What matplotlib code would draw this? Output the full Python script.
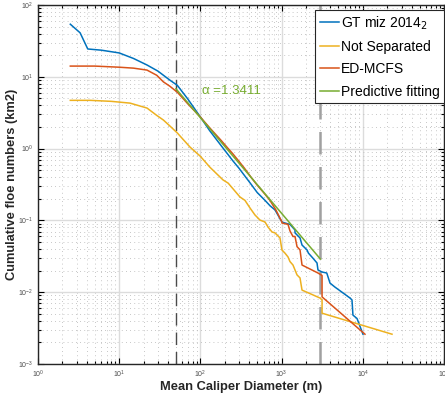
import numpy as np
import matplotlib.pyplot as plt

plt.rcParams['font.family'] = ['Liberation Sans', 'DejaVu Sans']

# GT miz 2014_2
gt_x = [2.5, 3.3, 4.1, 6, 10, 15, 22, 30, 42, 52, 70, 100, 130, 180, 250, 300, 350, 420, 500,
        625, 720, 829, 1010, 1100, 1268, 1463, 1463, 1686, 1784, 2055, 2140, 2437, 2730, 2806,
        3150, 3600, 3945, 4530, 6950, 7360, 7560, 8490, 10050]
gt_y = [54, 41, 24.4, 23.5, 21.5, 18, 14.6, 12, 9.0, 7.6, 4.9, 2.75, 1.78, 1.1, 0.68, 0.53, 0.42,
        0.32, 0.245, 0.19, 0.16, 0.14, 0.095, 0.092, 0.088, 0.0735, 0.067, 0.057, 0.0454, 0.0388,
        0.035, 0.0297, 0.0255, 0.0204, 0.0191, 0.0185, 0.0134, 0.0118, 0.0083, 0.0078, 0.0048,
        0.0043, 0.0026]

# Not Separated
ns_x = [2.5, 4.4, 8, 13.6, 22, 29, 35, 42, 52, 74.5, 100, 131, 190, 220, 307, 354, 408, 470,
        542, 625, 680, 762, 829, 955, 1010, 1100, 1199, 1268, 1381, 1549, 1686, 1784, 2970,
        3150, 3150, 22900]
ns_y = [4.7, 4.7, 4.55, 4.3, 3.67, 2.9, 2.5, 2.07, 1.65, 1.05, 0.78, 0.55, 0.366, 0.33, 0.212,
        0.19, 0.149, 0.119, 0.101, 0.095, 0.081, 0.069, 0.067, 0.057, 0.0387, 0.035, 0.031,
        0.0267, 0.0239, 0.0174, 0.0158, 0.0107, 0.0083, 0.0078, 0.0051, 0.0026]

# ED-MCFS
ed_x = [2.5, 5, 10, 15, 22, 29, 35, 42, 52, 70, 100, 130, 180, 220, 250, 300, 350, 420, 500,
        590, 719, 850, 1010, 1010, 1199, 1268, 1381, 1463, 1549, 1686, 1784, 2806, 3150, 3150,
        10640]
ed_y = [14.1, 14.1, 13.6, 13.2, 12.4, 10.5, 8.5, 7.4, 6.1, 4.2, 2.75, 1.95, 1.3, 1.0, 0.85,
        0.66, 0.53, 0.40, 0.31, 0.25, 0.19, 0.14, 0.095, 0.092, 0.088, 0.0714, 0.0597, 0.0597,
        0.0431, 0.0388, 0.0239, 0.0185, 0.0171, 0.0086, 0.0026]

# Predictive fitting
fit_x = [50, 3000]
fit_y = [6.8, 0.029]

cut_lines = [50, 3000]
alpha_text = 'α =1.3411'

fig = plt.figure(figsize=(4.45, 4.0), dpi=100)
ax = fig.add_axes([38 / 445, 36 / 400, 406 / 445, 359 / 400])

ax.set_xscale('log')
ax.set_yscale('log')
ax.set_xlim(1, 1e5)
ax.set_ylim(1e-3, 1e2)

ax.grid(True, which='major', color='#dcdcdc', linewidth=1.0, linestyle='-')
ax.grid(True, which='minor', color='#b4b4b4', linewidth=0.6, linestyle=(0, (1, 4)))
ax.set_axisbelow(True)

ax.axvline(cut_lines[0], color='#4a4a4a', linewidth=1.0, linestyle=(0, (9, 5)), zorder=1)
ax.axvline(cut_lines[1], color='#a0a0a0', linewidth=1.8, linestyle=(0, (9, 5)), zorder=1)

ax.plot(gt_x, gt_y, color='#0072BD', linewidth=1.1, label='GT miz 2014$_2$', zorder=3)
ax.plot(ns_x, ns_y, color='#EDB120', linewidth=1.1, label='Not Separated', zorder=3)
ax.plot(ed_x, ed_y, color='#D95319', linewidth=1.1, label='ED-MCFS', zorder=3)
ax.plot(fit_x, fit_y, color='#77AC30', linewidth=1.1, label='Predictive fitting', zorder=3)

ax.text(105, 6.3, alpha_text, color='#77AC30', fontsize=9.5, va='center', ha='left')

ax.tick_params(which='both', direction='in', top=True, right=True, labelsize=5,
               labelcolor='#4d4d4d', width=0.8)
ax.tick_params(which='major', length=4)
ax.tick_params(which='minor', length=2)
for s in ax.spines.values():
    s.set_linewidth(1.0)
    s.set_color('#262626')

ax.set_xlabel('Mean Caliper Diameter (m)', fontsize=9.3, fontweight='bold', color='#262626')
ax.set_ylabel('Cumulative floe numbers (km2)', fontsize=9.3, fontweight='bold', color='#262626')
ax.xaxis.set_label_coords(0.5, -0.047)
ax.yaxis.set_label_coords(-0.050, 0.5)

leg = ax.legend(loc='upper right', bbox_to_anchor=(1.0, 354 / 359), fontsize=10,
                frameon=True, fancybox=False, edgecolor='#262626', framealpha=1,
                handlelength=1.4, handletextpad=0.15, labelspacing=0.6, borderpad=0.3,
                borderaxespad=0.0)
leg.get_frame().set_linewidth(0.8)

fig.savefig('out.png', dpi=100)
